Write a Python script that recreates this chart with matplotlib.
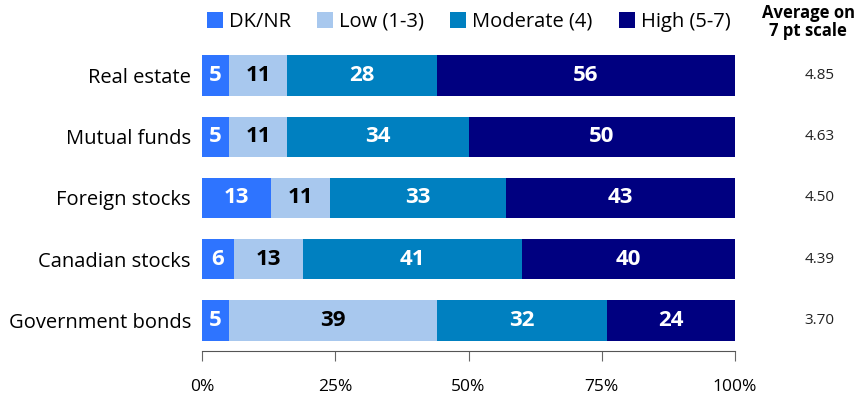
import matplotlib.pyplot as plt
from matplotlib.patches import Patch

categories = ["Real estate", "Mutual funds", "Foreign stocks", "Canadian stocks", "Government bonds"]
series_names = ["DK/NR", "Low (1-3)", "Moderate (4)", "High (5-7)"]
dk_nr = [5, 5, 13, 6, 5]
low = [11, 11, 11, 13, 39]
moderate = [28, 34, 33, 41, 32]
high = [56, 50, 43, 40, 24]
averages = ["4.85", "4.63", "4.50", "4.39", "3.70"]
x_ticks = [0, 25, 50, 75, 100]
x_tick_labels = ["0%", "25%", "50%", "75%", "100%"]

colors = ["#2E74FF", "#A8C8EE", "#0080C0", "#000080"]
text_colors = ["white", "black", "white", "white"]

plt.rcParams["font.family"] = ["Open Sans", "DejaVu Sans"]

fig = plt.figure(figsize=(8.6, 4.0), dpi=100)
ax = fig.add_axes([0.2349, 0.1225, 0.6198, 0.765])

series = [dk_nr, low, moderate, high]
ypos = list(range(len(categories)))
left = [0] * len(categories)
for vals, col, tcol in zip(series, colors, text_colors):
    ax.barh(ypos, vals, left=left, height=0.66, color=col, edgecolor="none")
    for y, v, l in zip(ypos, vals, left):
        ax.text(l + v / 2, y, str(v), ha="center", va="center",
                color=tcol, fontsize=16, fontweight="bold")
    left = [a + b for a, b in zip(left, vals)]

ax.set_xlim(0, 100)
ax.set_ylim(len(categories) - 0.5, -0.5)
ax.set_yticks(ypos)
ax.set_yticklabels(categories, fontsize=14.5)
ax.tick_params(axis="y", length=0, pad=8)
ax.set_xticks(x_ticks)
ax.set_xticklabels(x_tick_labels, fontsize=12.5)
ax.tick_params(axis="x", direction="out", length=7, color="#666666", pad=13)
for s in ["top", "right", "left"]:
    ax.spines[s].set_visible(False)
ax.spines["bottom"].set_color("#555555")

# averages column
for y, a in zip(ypos, averages):
    ax.text(1.158, y, a, transform=ax.get_yaxis_transform(), ha="center",
            va="center", fontsize=11, color="#222222")
fig.text(0.94, 0.945, "Average on\n7 pt scale", ha="center", va="center",
         fontsize=12, fontweight="bold", linespacing=1.0)

handles = [Patch(facecolor=c, edgecolor="none") for c in colors]
fig.legend(handles, series_names, loc="center", bbox_to_anchor=(0.545, 0.945),
           ncol=4, frameon=False, fontsize=14.5, handlelength=0.8, handleheight=0.8,
           handletextpad=0.3, columnspacing=1.3)

fig.savefig("out.png", dpi=100)
